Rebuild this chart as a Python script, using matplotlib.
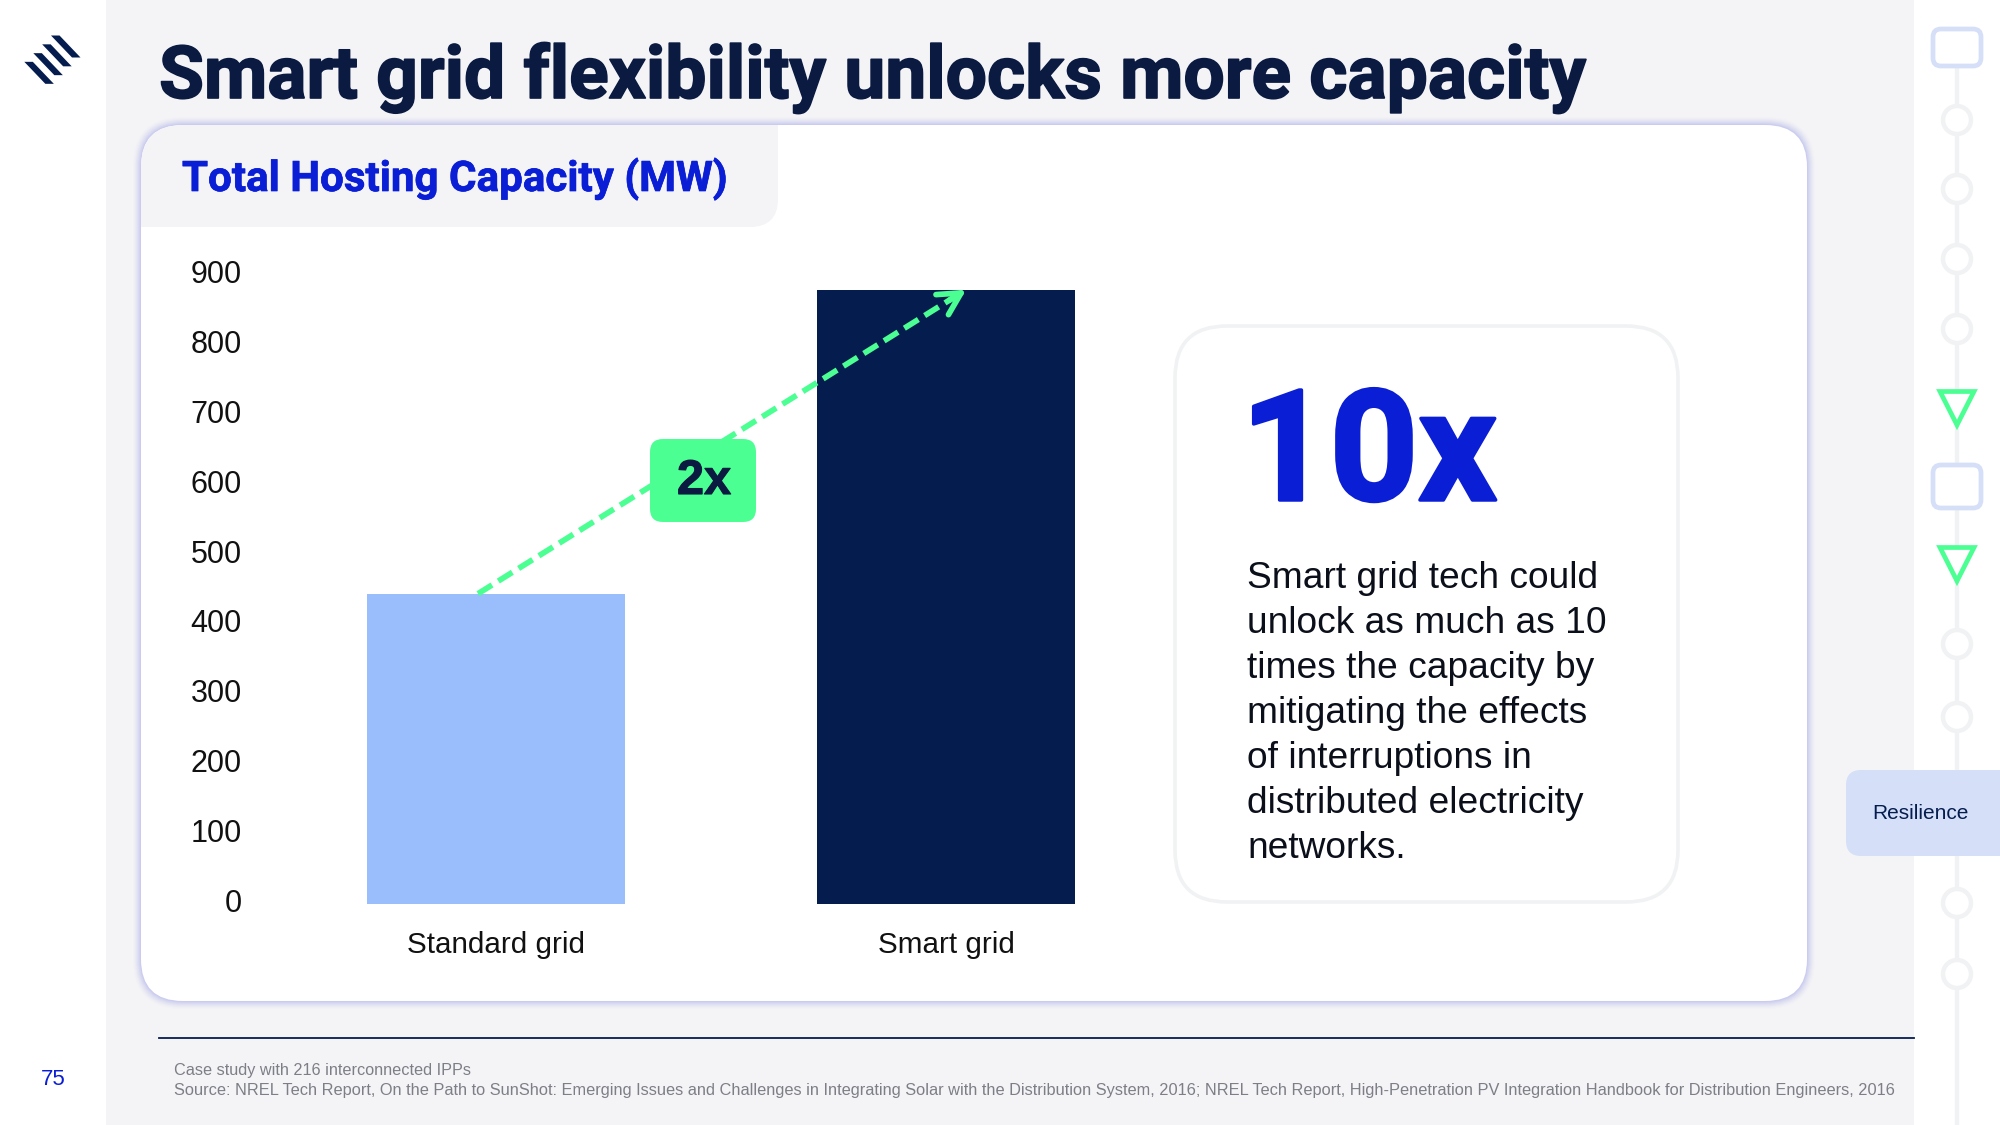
import matplotlib
matplotlib.use("Agg")
import matplotlib.pyplot as plt
import matplotlib.patheffects as pe
from matplotlib.patches import FancyBboxPatch, Rectangle, Polygon, Circle

categories = ["Standard grid", "Smart grid"]
capacity_mw = [444, 879]
y_ticks = [0, 100, 200, 300, 400, 500, 600, 700, 800, 900]

TITLE = "Smart grid flexibility unlocks more capacity"
SUBTITLE = "Total Hosting Capacity (MW)"
BODY_LINES = ["Smart grid tech could", "unlock as much as 10", "times the capacity by",
              "mitigating the effects", "of interruptions in",
              "distributed electricity", "networks."]
FOOT_1 = "Case study with 216 interconnected IPPs"
FOOT_2 = ("Source: NREL Tech Report, On the Path to SunShot: Emerging Issues and Challenges in "
          "Integrating Solar with the Distribution System, 2016; NREL Tech Report, "
          "High-Penetration PV Integration Handbook for Distribution Engineers, 2016")

NAVY = "#051C4F"
INK = "#0A1A40"
BLUE = "#0A1ED6"
LIGHT = "#9ABDFC"
GREEN = "#4BFF93"
BG = "#F4F4F7"
TRACK = "#F1F2F4"
PALE = "#D5E0F8"
FONT = "Liberation Sans"
HEAVY = "Roboto"

W, H = 2000, 1125
fig = plt.figure(figsize=(20, 11.25), dpi=100, facecolor="white")

def px_axes(z):
    a = fig.add_axes([0, 0, 1, 1], zorder=z)
    a.set_xlim(0, W)
    a.set_ylim(H, 0)
    a.axis("off")
    a.patch.set_alpha(0)
    return a

def rbox(a, x0, y0, x1, y1, r, **kw):
    p = FancyBboxPatch((x0 + r, y0 + r), x1 - x0 - 2 * r, y1 - y0 - 2 * r,
                       boxstyle=f"round,pad={r},rounding_size={r}", **kw)
    a.add_patch(p)
    return p

def fit(t, width):
    r = fig.canvas.get_renderer()
    w = t.get_window_extent(r).width
    t.set_fontsize(t.get_fontsize() * width / w)
    return t

def embolden(t, w):
    t.set_path_effects([pe.withStroke(linewidth=w, foreground=t.get_color())])
    return t

bg = px_axes(0)
bg.add_patch(Rectangle((106, 0), 1808, H, fc=BG, ec="none"))

# logo
for dx, dy in [(0, 0), (-26.5, 26.5), (-53, 53), (-80, 79)]:
    pts = [(51 + dx / 3, 35.5 + dy / 3), (59.5 + dx / 3, 35.5 + dy / 3),
           (80.5 + dx / 3, 57.5 + dy / 3), (72 + dx / 3, 57.5 + dy / 3)]
    bg.add_patch(Polygon(pts, closed=True, fc=NAVY, ec="none"))

# card shadow
cx0, cy0, cx1, cy1 = 141, 125, 1807, 1001
for i, a_ in zip([8, 7, 6, 5, 4, 3, 2, 1], [.03, .04, .05, .07, .09, .11, .14, .18]):
    rbox(bg, cx0 - i, cy0 - i, cx1 + i, cy1 + i, 42 + i, fc="#A9AEEE", ec="none", alpha=a_)
card = rbox(bg, cx0, cy0, cx1, cy1, 42, fc="white", ec="none")

# title tab, clipped to the card
tab = rbox(bg, cx0 - 60, cy0 - 60, 778, 227, 28, fc=BG, ec="none")
tab.set_clip_path(card)

# inner card
rbox(bg, 1175, 326, 1678, 902, 52, fc="white", ec=TRACK, lw=2.6)

# timeline
XT = 1957
bg.plot([XT, XT], [48, H], color=TRACK, lw=3.2, solid_capstyle="butt", zorder=0.5)
for yc in [120, 189, 259, 329, 644, 717, 903, 974]:
    bg.add_patch(Circle((XT, yc), 14, fc="white", ec=TRACK, lw=3.2, zorder=1))
for y0, y1 in [(29, 66), (465, 508)]:
    rbox(bg, 1933, y0, 1981, y1, 8, fc="white", ec=PALE, lw=3.4, zorder=1)
for y0, y1 in [(391.5, 425), (547.5, 581)]:
    bg.add_patch(Polygon([(1940, y0), (1974, y0), (XT, y1)], closed=True, fc="white",
                         ec=GREEN, lw=3.4, joinstyle="miter", zorder=1))
rbox(bg, 1846, 770, 2030, 856, 15, fc=PALE, ec="none", zorder=1.5)

# footer rule
bg.plot([159, 1914], [1038, 1038], color=NAVY, lw=1.3)

# chart
L, R, B, T = 271, 1171, 904, 275
ax = fig.add_axes([L / W, 1 - B / H, (R - L) / W, (B - T) / H], zorder=1)
ax.patch.set_alpha(0)
xs = range(len(categories))
ax.bar(xs, capacity_mw, width=0.573, color=[LIGHT, NAVY], linewidth=0)
ax.set_xlim(-0.5, 1.5)
ax.set_ylim(0, 900)
for s in ax.spines.values():
    s.set_visible(False)
ax.set_yticks(y_ticks)
ax.set_xticks(list(xs))
ax.set_xticklabels(categories, fontfamily=FONT, fontsize=21.3, color="#111111")
ax.set_yticklabels([str(v) for v in y_ticks], fontfamily=FONT, fontsize=22, color="#111111",
                   va="center")
ax.tick_params(axis="both", length=0)
ax.tick_params(axis="x", pad=19.5)
ax.tick_params(axis="y", pad=21)

# growth arrow between bar tops
x_a, x_b = -0.04, 1.045
y_a, y_b = capacity_mw
frac = 0.965
x_n, y_n = x_a + (x_b - x_a) * frac, y_a + (y_b - y_a) * frac
ax.plot([x_a, x_b - (x_b - x_a) * 0.01], [y_a, y_b - (y_b - y_a) * 0.01], color=GREEN, lw=4.1,
        linestyle=(0, (2.9, 1.3)), clip_on=False, zorder=4, dash_capstyle="butt")
ax.annotate("", xy=(x_b, y_b), xytext=(x_n, y_n),
            arrowprops=dict(arrowstyle="->,head_length=1.6,head_width=0.85", color=GREEN, lw=4.1,
                            shrinkA=0, shrinkB=0), zorder=5, annotation_clip=False)

fg = px_axes(2)
rbox(fg, 650, 439, 756, 522, 13, fc=GREEN, ec="none")
embolden(fg.text(704, 494, "2x", family=FONT, weight="bold", color=INK, size=35, ha="center",
                 va="baseline"), 0.8)

fig.canvas.draw()
embolden(fit(fg.text(159, 98, TITLE, family=HEAVY, weight="bold", color=INK, size=52, va="baseline"),
             1427), 1.2)
embolden(fit(fg.text(182, 191, SUBTITLE, family=HEAVY, weight="bold", color=BLUE, size=30,
                     va="baseline"), 545), 0.5)
embolden(fit(fg.text(1241, 500, "10x", family=HEAVY, weight="bold", color=BLUE, size=114,
                     va="baseline"), 256), 2.5)
for i, line in enumerate(BODY_LINES):
    fg.text(1247, 588 + i * 44.95, line, family=FONT, color="#0B0F1A", size=26.7, va="baseline")
fit(fg.text(174, 1075, FOOT_1, family=FONT, color="#7D7F86", size=11.5, va="baseline"), 298)
fit(fg.text(174, 1095, FOOT_2, family=FONT, color="#7D7F86", size=11.5, va="baseline"), 1721)
fg.text(41, 1085, "75", family=FONT, color=BLUE, size=16, va="baseline")
fg.text(1872, 819, "Resilience", family=FONT, color=NAVY, size=15, va="baseline")

fig.savefig("out.png", dpi=100, facecolor="white")
